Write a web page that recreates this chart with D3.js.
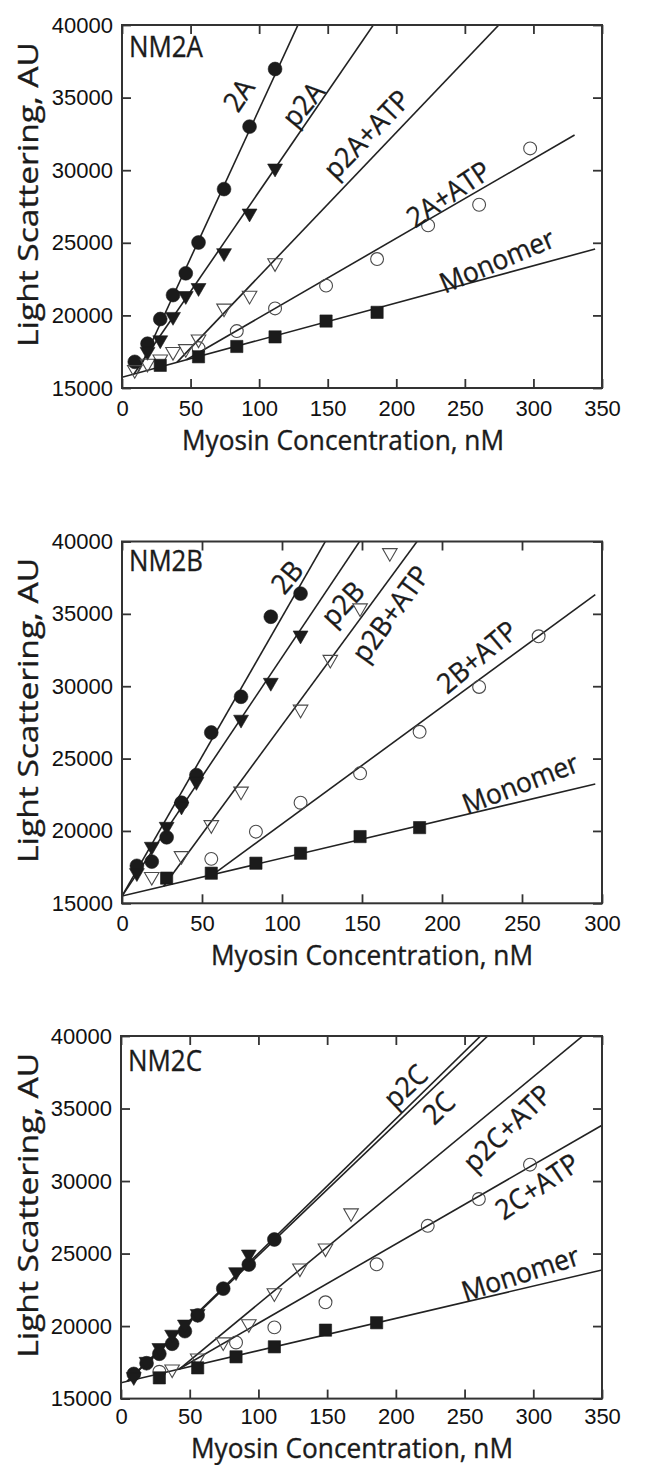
<!DOCTYPE html>
<html>
<head>
<meta charset="utf-8">
<script src="https://cdn.jsdelivr.net/npm/d3@7"></script>
<style>
  body { margin: 0; background: #fff; }
  svg { display: block; }
</style>
</head>
<body>
<svg id="fig" width="666" height="1465"></svg>
<script>
// ---------- shared ----------
const yTicks = [15000, 20000, 25000, 30000, 35000, 40000];
const xTicks350 = [0, 50, 100, 150, 200, 250, 300, 350];
const xTicks300 = [0, 50, 100, 150, 200, 250, 300];
const panelNames = ["NM2A", "NM2B", "NM2C"];

// ---------- NM2A ----------
const a2A_x = [9.3, 18.6, 27.9, 37.2, 46.5, 55.8, 74.4, 93, 111.6];
const a2A_y = [16800, 18050, 19750, 21400, 22900, 25020, 28700, 33000, 36970];
const ap2A_x = [18.6, 27.9, 37.2, 46.5, 55.8, 74.4, 93, 111.6];
const ap2A_y = [17500, 18300, 19910, 21350, 21900, 24300, 27030, 30130];
const ap2AATP_x = [9.3, 18.6, 27.9, 37.2, 46.5, 55.8, 74.4, 93, 111.6];
const ap2AATP_y = [16250, 16690, 16980, 17500, 17700, 18360, 20490, 21370, 23610];
const a2AATP_x = [55.8, 83.7, 111.6, 148.8, 186, 223.2, 260.4, 297.6];
const a2AATP_y = [17750, 18920, 20480, 22050, 23880, 26200, 27620, 31500];
const aMono_x = [27.9, 55.8, 83.7, 111.6, 148.8, 186];
const aMono_y = [16560, 17150, 17860, 18520, 19610, 20210];
const fitA_slope = [205, 137.7, 99, 54.7, 25.6];
const fitA_int = [13700, 14763, 12800, 14372, 15740];
const fitA_end = [350, 350, 350, 330, 345];
const labelA = ["2A", "p2A", "p2A+ATP", "2A+ATP", "Monomer"];
const labelA_x = [85, 132, 178.3, 237.9, 273.3];
const labelA_y = [35188, 34546, 32484, 28359, 23776];
const labelA_rot = [-56, -50, -46, -34, -23];

// ---------- NM2B ----------
const b2B_x = [9.3, 18.6, 27.9, 37.2, 46.5, 55.8, 74.4, 93, 111.6];
const b2B_y = [17590, 17880, 19560, 21950, 23860, 26800, 29270, 34800, 36400];
const bp2B_x = [9.3, 18.6, 27.9, 37.2, 46.5, 74.4, 93, 111.6];
const bp2B_y = [17100, 18920, 20300, 21700, 23400, 27700, 30250, 33520];
const bp2BATP_x = [18.6, 37.2, 55.8, 74.4, 111.6, 130.2, 148.8, 167.4];
const bp2BATP_y = [16840, 18280, 20420, 22740, 28400, 31840, 35400, 39220];
const b2BATP_x = [55.8, 83.7, 111.6, 148.8, 186, 223.2, 260.4];
const b2BATP_y = [18070, 19950, 21950, 23980, 26850, 29950, 33450];
const bMono_x = [27.9, 55.8, 83.7, 111.6, 148.8, 186];
const bMono_y = [16740, 17080, 17770, 18460, 19610, 20230];
const fitB_slope = [192.8, 165, 150.4, 80.9, 26.2];
const fitB_int = [15500, 15500, 12266, 12394, 15500];
const fitB_end = [300, 300, 300, 295.8, 295.8];
const labelB = ["2B", "p2B", "p2B+ATP", "2B+ATP", "Monomer"];
const labelB_x = [103.1, 137.9, 167.7, 221.9, 249];
const labelB_y = [37543, 35704, 35014, 32026, 23290];
const labelB_rot = [-50, -47, -54, -40, -21];

// ---------- NM2C ----------
const c2C_x = [9.3, 18.6, 27.9, 37.2, 46.5, 55.8, 74.4, 93, 111.6];
const c2C_y = [16700, 17440, 18090, 18780, 19650, 20740, 22580, 24240, 25970];
const cp2C_x = [9.3, 18.6, 27.9, 37.2, 46.5, 55.8, 83.7, 93];
const cp2C_y = [16500, 17550, 18500, 19420, 20120, 20850, 23730, 24950];
const cp2CATP_x = [37.2, 55.8, 74.4, 93, 111.6, 130.2, 148.8, 167.4];
const cp2CATP_y = [17030, 17790, 18900, 20150, 22280, 23990, 25370, 27790];
const c2CATP_x = [27.9, 83.7, 111.6, 148.8, 186, 223.2, 260.4, 297.6];
const c2CATP_y = [16850, 18870, 19910, 21640, 24260, 26910, 28760, 31130];
const cMono_x = [27.9, 55.8, 83.7, 111.6, 148.8, 186];
const cMono_y = [16430, 17120, 17880, 18570, 19720, 20230];
const fitC_slope = [90.7, 92.7, 78.3, 54.6, 22.2];
const fitC_int = [15800, 15750, 13699, 14737, 16095];
const fitC_end = [350, 350, 350, 350, 350];
const labelC = ["2C", "p2C", "p2C+ATP", "2C+ATP", "Monomer"];
const labelC_x = [231.1, 206.9, 280.9, 302.7, 290.6];
const labelC_y = [35045, 36542, 33662, 29630, 23640];
const labelC_rot = [-44, -43, -44, -34, -18];

// ---------- layout ----------
const layout = [
  { left: 122, right: 602, top: 25, bottom: 388, xMax: 350, xTicks: xTicks350, nmBase: 32, tickPad: 12, xLab: 343, xLabBase: 62 },
  { left: 122, right: 602, top: 541.5, bottom: 903.3, xMax: 300, xTicks: xTicks300, nmBase: 29, tickPad: 12, xLab: 372, xLabBase: 62 },
  { left: 121, right: 602, top: 1036, bottom: 1398.6, xMax: 350, xTicks: xTicks350, nmBase: 35, tickPad: 10, xLab: 352, xLabBase: 58.9 },
];
const markerKinds = ["dot", "tri", "otri", "ocirc", "sq"];
const sans = "'Open Sans', 'DejaVu Sans', sans-serif";
const arial = "'Liberation Sans', Arial, sans-serif";
const ink = "#1b1b1b";

const panels = [
  {
    series: [[a2A_x, a2A_y], [ap2A_x, ap2A_y], [ap2AATP_x, ap2AATP_y], [a2AATP_x, a2AATP_y], [aMono_x, aMono_y]],
    slope: fitA_slope, int: fitA_int, end: fitA_end,
    labels: labelA, lx: labelA_x, ly: labelA_y, rot: labelA_rot,
  },
  {
    series: [[b2B_x, b2B_y], [bp2B_x, bp2B_y], [bp2BATP_x, bp2BATP_y], [b2BATP_x, b2BATP_y], [bMono_x, bMono_y]],
    slope: fitB_slope, int: fitB_int, end: fitB_end,
    labels: labelB, lx: labelB_x, ly: labelB_y, rot: labelB_rot,
  },
  {
    series: [[c2C_x, c2C_y], [cp2C_x, cp2C_y], [cp2CATP_x, cp2CATP_y], [c2CATP_x, c2CATP_y], [cMono_x, cMono_y]],
    slope: fitC_slope, int: fitC_int, end: fitC_end,
    labels: labelC, lx: labelC_x, ly: labelC_y, rot: labelC_rot,
  },
];

const svg = d3.select("#fig");

// the figure's type is a narrow humanist face: keep the size, squeeze the width
function squeeze(sel, target) {
  sel.attr("textLength", target).attr("lengthAdjust", "spacingAndGlyphs");
}
function styleSans(sel, size) {
  return sel.attr("font-family", sans).attr("font-size", size)
    .attr("fill", ink).attr("stroke", ink).attr("stroke-width", 0.35);
}

// horizontal squeeze for the line labels, taken from "Monomer"
const probe = svg.append("text").attr("font-family", sans).attr("font-size", 28).text("Monomer");
const labelSqueeze = Math.min(1, 122 / probe.node().getComputedTextLength());
probe.remove();

const sym = {
  dot: d3.symbol().type(d3.symbolCircle).size(150)(),
  ocirc: d3.symbol().type(d3.symbolCircle).size(130)(),
  sq: d3.symbol().type(d3.symbolSquare).size(150)(),
  tri: d3.symbol().type(d3.symbolTriangle).size(96)(),
  otri: d3.symbol().type(d3.symbolTriangle).size(92)(),
};

panels.forEach((p, pi) => {
  const L = layout[pi];
  const x = d3.scaleLinear().domain([0, L.xMax]).range([L.left, L.right]);
  const y = d3.scaleLinear().domain([15000, 40000]).range([L.bottom, L.top]);
  const g = svg.append("g");

  const clipId = "clip" + pi;
  svg.append("clipPath").attr("id", clipId)
    .append("rect")
    .attr("x", L.left).attr("y", L.top)
    .attr("width", L.right - L.left).attr("height", L.bottom - L.top);

  // fit lines, each starting where it meets the monomer line
  const mono = 4;
  const lines = g.append("g").attr("clip-path", `url(#${clipId})`);
  p.slope.forEach((s, i) => {
    let x0 = 0;
    if (i !== mono) {
      x0 = Math.max(0, (p.int[mono] - p.int[i]) / (s - p.slope[mono]));
    }
    const x1 = p.end[i];
    lines.append("line")
      .attr("x1", x(x0)).attr("y1", y(p.int[i] + s * x0))
      .attr("x2", x(x1)).attr("y2", y(p.int[i] + s * x1))
      .attr("stroke", "#222").attr("stroke-width", 1.6);
  });

  // markers
  p.series.forEach(([xs, ys], si) => {
    const kind = markerKinds[si];
    const open = kind === "otri" || kind === "ocirc";
    const rows = xs.map((v, k) => ({ x: v, y: ys[k] }));
    g.append("g").selectAll("path").data(rows).join("path")
      .attr("d", sym[kind])
      .attr("transform", (d) =>
        `translate(${x(d.x)},${y(d.y)})` + (kind === "tri" || kind === "otri" ? " rotate(180)" : ""))
      .attr("fill", open ? "none" : ink)
      .attr("stroke", open ? "#4a4a4a" : ink)
      .attr("stroke-width", open ? 1.1 : 0.6);
  });

  // line labels
  p.labels.forEach((t, i) => {
    styleSans(g.append("text"), 28)
      .attr("transform", `translate(${x(p.lx[i])},${y(p.ly[i])}) rotate(${p.rot[i]}) scale(${labelSqueeze},1)`)
      .attr("text-anchor", "middle")
      .attr("dy", "0.36em")
      .text(t);
  });

  // axes, ticks pointing inwards on all four sides
  const bottom = g.append("g").attr("transform", `translate(0,${L.bottom})`)
    .call(d3.axisBottom(x).tickValues(L.xTicks).tickSize(-9).tickPadding(L.tickPad).tickFormat(d3.format("d")));
  const left = g.append("g").attr("transform", `translate(${L.left},0)`)
    .call(d3.axisLeft(y).tickValues(yTicks).tickSize(-9).tickPadding(9).tickFormat(d3.format("d")));
  g.append("g").attr("transform", `translate(0,${L.top})`)
    .call(d3.axisTop(x).tickValues(L.xTicks).tickSize(-9).tickFormat(""));
  g.append("g").attr("transform", `translate(${L.right},0)`)
    .call(d3.axisRight(y).tickValues(yTicks).tickSize(-9).tickFormat(""));
  g.selectAll(".domain").remove();
  g.selectAll(".tick line").attr("stroke", "#333").attr("stroke-width", 1.8);
  [bottom, left].forEach((a) =>
    a.selectAll("text").attr("font-family", arial).attr("font-size", 22).attr("fill", "#111"));

  g.append("rect")
    .attr("x", L.left).attr("y", L.top)
    .attr("width", L.right - L.left).attr("height", L.bottom - L.top)
    .attr("fill", "none").attr("stroke", "#333").attr("stroke-width", 2);

  // panel name
  const nm = styleSans(g.append("text"), 29)
    .attr("x", L.left + 7).attr("y", L.top + L.nmBase)
    .text(panelNames[pi]);
  squeeze(nm, 74);

  // axis titles
  const xt = styleSans(g.append("text"), 26.5)
    .attr("x", L.xLab).attr("y", L.bottom + L.xLabBase)
    .attr("text-anchor", "middle")
    .text("Myosin Concentration, nM");
  squeeze(xt, 322);

  const yt = styleSans(g.append("text"), 27)
    .attr("transform", `translate(28,${(L.top + L.bottom) / 2 - 12}) rotate(-90)`)
    .attr("dy", "0.36em")
    .attr("text-anchor", "middle")
    .text("Light Scattering, AU");
  squeeze(yt, 305);
});
</script>
</body>
</html>
